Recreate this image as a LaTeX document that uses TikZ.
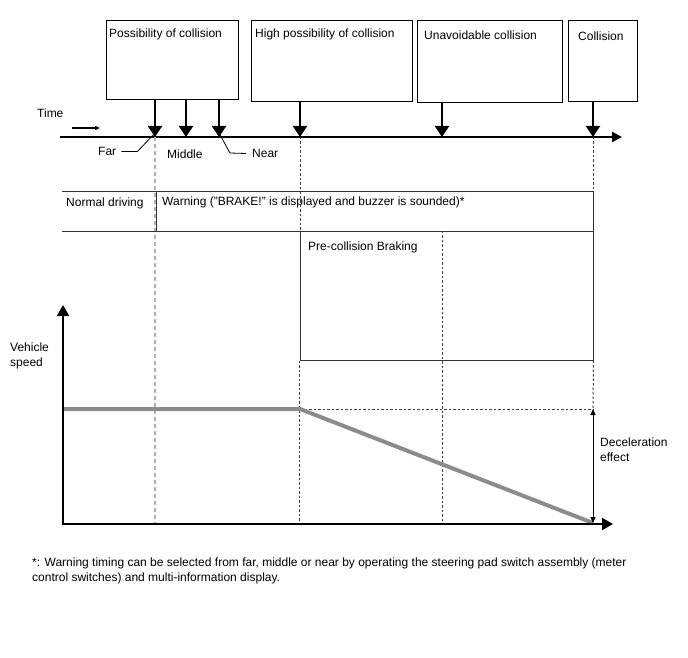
\documentclass[tikz,border=0pt]{standalone}
\usepackage{fontspec}
\setmainfont{Liberation Sans}
\usetikzlibrary{arrows.meta}
\newcommand\lab{\fontsize{12}{15}\selectfont}
\tikzset{
  phase/.style={draw,line width=1pt,inner sep=0pt},
  txt/.style={anchor=west,inner sep=0pt,font=\lab,align=left,yshift=-1.5pt},
  drop/.style={line width=2pt,-{Triangle[width=14pt,length=11pt]}},
  timeaxis/.style={line width=2.5pt,-{Triangle[width=10pt,length=10pt]}},
  speedaxis/.style={line width=2pt,-{Triangle[width=12pt,length=11pt]}},
  rule/.style={line width=1pt,black!80},
  guide/.style={gray!60,line width=1.1pt,dash pattern=on 4pt off 3pt},
  dguide/.style={black!75,line width=1pt,dash pattern=on 2.5pt off 2pt},
  speed/.style={black!45,line width=4pt},
  leader/.style={line width=0.8pt},
  span/.style={line width=0.9pt,{Triangle[width=5pt,length=6pt]}-{Triangle[width=5pt,length=6pt]}}
}
\begin{document}
\begin{tikzpicture}[x=1pt,y=-1pt]
\useasboundingbox (0,0) rectangle (688,658);

% Phase boxes above the time axis
\node[phase,minimum width=132,minimum height=79] (pc) at (172,60.5) {};
\node[phase,minimum width=161,minimum height=81] (hpc) at (331.5,61.5) {};
\node[phase,minimum width=145,minimum height=82] (uc) at (489.5,62) {};
\node[phase,minimum width=69,minimum height=81] (col) at (602.5,61.5) {};
\node[txt] at (109,33) {Possibility of collision};
\node[txt] at (255,33) {High possibility of collision};
\node[txt] at (424,34) {Unavoidable collision};
\node[txt] at (578,35) {Collision};

% Time axis
\coordinate (t0) at (60,137);
\coordinate (t1) at (622,137);
\coordinate (tfar) at (155,137);
\coordinate (tmid) at (186,137);
\coordinate (tnear) at (219,137);
\coordinate (thigh) at (300,137);
\coordinate (tunav) at (442,137);
\coordinate (tcoll) at (593,137);
\draw[timeaxis] (t0) -- (t1);
\node[txt] (time) at (37,112) {Time};
\coordinate (ta) at (72,128);
\coordinate (tb) at (100,128);
\draw[line width=1.2pt,-{Triangle[width=4pt,length=5pt]}] (ta) -- (tb);

\draw[drop] (pc.south -| tfar) -- (tfar);
\draw[drop] (pc.south -| tmid) -- (tmid);
\draw[drop] (pc.south -| tnear) -- (tnear);
\draw[drop] (hpc.south -| thigh) -- (thigh);
\draw[drop] (uc.south -| tunav) -- (tunav);
\draw[drop] (col.south -| tcoll) -- (tcoll);

% Far / Middle / Near
\node[txt] (far) at (98,150) {Far};
\node[txt] (mid) at (167,153) {Middle};
\node[txt] (near) at (252,152) {Near};
\coordinate (farpt) at (157,131);
\coordinate (nearpt) at (219,133);
\draw[leader] ([xshift=5pt]far.east) -- ++(16,0) -- (farpt);
\draw[leader] (nearpt) -- (230,153) -- ([xshift=-6pt]near.west);

% Guide lines
\coordinate (o) at (63,524);
\draw[guide] (tfar) -- (tfar |- o);
\draw[dguide] (thigh) -- (300,231);
\draw[dguide] (tcoll) -- (593,192);

% Operation rows
\node[minimum width=95,minimum height=39,inner sep=0pt] (nd) at (109.5,211.5) {};
\node[minimum width=436,minimum height=39,inner sep=0pt] (wb) at (375,211.5) {};
\draw[rule] (nd.north west) -- (wb.north east) -- (wb.south east);
\draw[rule] (nd.south west) -- (wb.south east);
\draw[rule] (wb.north west) -- (wb.south west);
\node[txt] at (66,202) {Normal driving};
\node[txt] at (162,201) {Warning ("BRAKE!" is displayed and buzzer is sounded)*};
\node[draw,rule,minimum width=293,minimum height=129,inner sep=0pt] (pcb) at (446.5,295.5) {};
\node[txt] at (308,246) {Pre-collision Braking};

\draw[dguide] (pcb.south west) -- (pcb.south west |- o);
\draw[dguide] (pcb.north -| tunav) -- (tunav |- o);
\coordinate (v0) at (63,409);
\coordinate (v1) at (300,409);
\coordinate (v2) at (593,523);
\coordinate (vtop) at (593,409);
\draw[dguide] (pcb.south east) -- (vtop);
\draw[dguide] (v1) -- (vtop);

% Vehicle speed plot
\coordinate (ytop) at (63,305);
\coordinate (xend) at (613,524);
\draw[speed] (v0) -- (v1) -- (v2);
\draw[speedaxis] (o) -- (ytop);
\draw[speedaxis] ([xshift=-1pt]o) -- (xend);
\draw[span] (vtop) -- (v2);
\node[txt] at (10,354) {Vehicle\\speed};
\node[txt] at (600,448) {Deceleration\\effect};

% Note
\node[txt] at (32,569.5) {*: Warning timing can be selected from far, middle or near by operating the steering pad switch assembly (meter\\control switches) and multi-information display.};
\end{tikzpicture}
\end{document}
